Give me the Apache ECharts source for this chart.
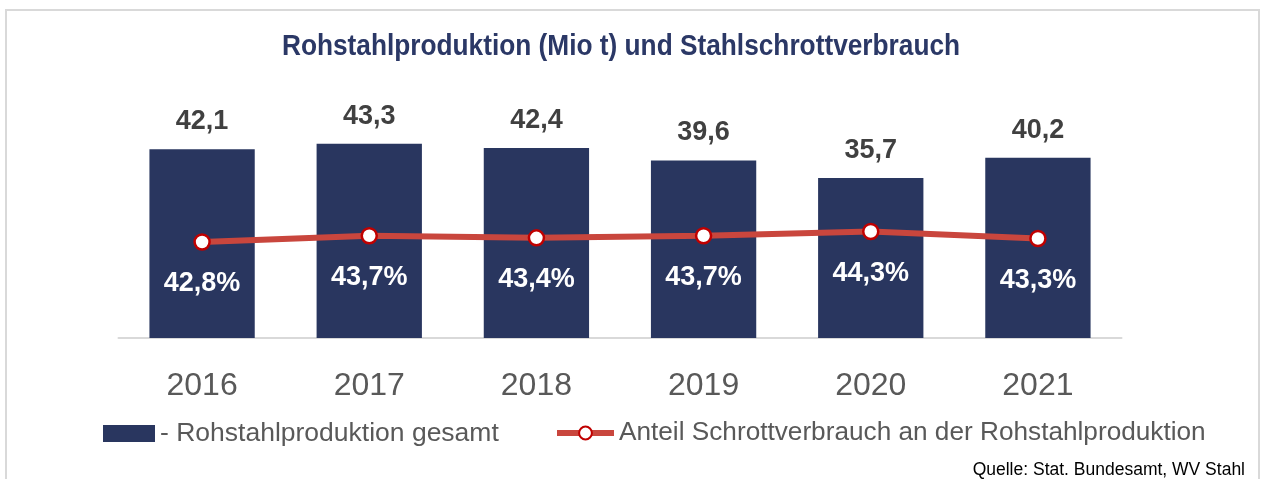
<!DOCTYPE html>
<html>
<head>
<meta charset="utf-8">
<script src="https://cdn.jsdelivr.net/npm/echarts@6/dist/echarts.min.js"></script>
<style>
html,body{margin:0;padding:0;background:#fff;}
#c{width:1261px;height:479px;}
</style>
</head>
<body>
<div id="c"></div>
<script>
var years = ['2016','2017','2018','2019','2020','2021'];
var production = [42.1, 43.3, 42.4, 39.6, 35.7, 40.2];
var scrapShare = [42.8, 43.7, 43.4, 43.7, 44.3, 43.3];
var titleText = 'Rohstahlproduktion (Mio t) und Stahlschrottverbrauch';
var barName = '- Rohstahlproduktion gesamt';
var lineName = 'Anteil Schrottverbrauch an der Rohstahlproduktion';
var sourceText = 'Quelle: Stat. Bundesamt, WV Stahl';

var FONT = '"Liberation Sans", Arial, sans-serif';
function fmt(v){ return String(v.toFixed(1)).replace('.', ','); }

var chart = echarts.init(document.getElementById('c'));
chart.setOption({
  animation: false,
  backgroundColor: '#ffffff',
  textStyle: { fontFamily: FONT },
  grid: { left: 118.5, right: 139.5, top: 69, bottom: 141 },
  xAxis: {
    type: 'category',
    data: years,
    axisLine: { lineStyle: { color: '#d9d9d9', width: 2 } },
    axisTick: { show: false },
    axisLabel: { fontSize: 32, color: '#595959', margin: 32, fontFamily: FONT }
  },
  yAxis: [
    { type: 'value', min: 0, max: 60, show: false, splitLine: { show: false } },
    { type: 'value', min: 29.1, max: 67.5, show: false, splitLine: { show: false } }
  ],
  legend: [
    {
      data: [{ name: barName, icon: 'rect' }],
      left: 98, top: 415,
      itemWidth: 52, itemHeight: 17,
      textStyle: { fontSize: 26.5, color: '#595959', fontFamily: FONT }
    },
    {
      data: [lineName],
      left: 549, top: 415,
      itemWidth: 57, itemHeight: 16,
      lineStyle: { width: 6, color: '#C9463D' },
      textStyle: { fontSize: 26.2, color: '#595959', fontFamily: FONT }
    }
  ],
  series: [
    {
      name: barName,
      type: 'bar',
      data: production,
      barWidth: '63%',
      itemStyle: { color: '#29365F' },
      label: {
        show: true, position: 'top', distance: 14,
        fontSize: 27, fontWeight: 'bold', color: '#404040', fontFamily: FONT,
        formatter: function(p){ return fmt(p.value); }
      }
    },
    {
      name: lineName,
      type: 'line',
      yAxisIndex: 1,
      data: scrapShare,
      symbol: 'circle',
      symbolSize: 15,
      lineStyle: { color: '#C9463D', width: 6 },
      itemStyle: { color: '#ffffff', borderColor: '#C00000', borderWidth: 2.5 },
      label: {
        show: true, position: 'inside', offset: [0, 42],
        fontSize: 27, fontWeight: 'bold', color: '#ffffff', fontFamily: FONT,
        formatter: function(p){ return fmt(p.value) + '%'; }
      },
      z: 5
    }
  ],
  graphic: [
    { type: 'rect', shape: { x: 6, y: 10, width: 1253, height: 520 },
      style: { fill: 'none', stroke: '#d9d9d9', lineWidth: 2 }, silent: true },
    { type: 'text', x: 621, y: 47, scaleX: 0.875,
      style: { text: titleText, fontSize: 30, fontWeight: 'bold', fill: '#2B3866',
        fontFamily: FONT, align: 'center', verticalAlign: 'middle' } },
    { type: 'text', x: 1245, y: 470,
      style: { text: sourceText, fontSize: 17.5, fill: '#000000',
        fontFamily: FONT, align: 'right', verticalAlign: 'middle' } }
  ]
});
</script>
</body>
</html>
